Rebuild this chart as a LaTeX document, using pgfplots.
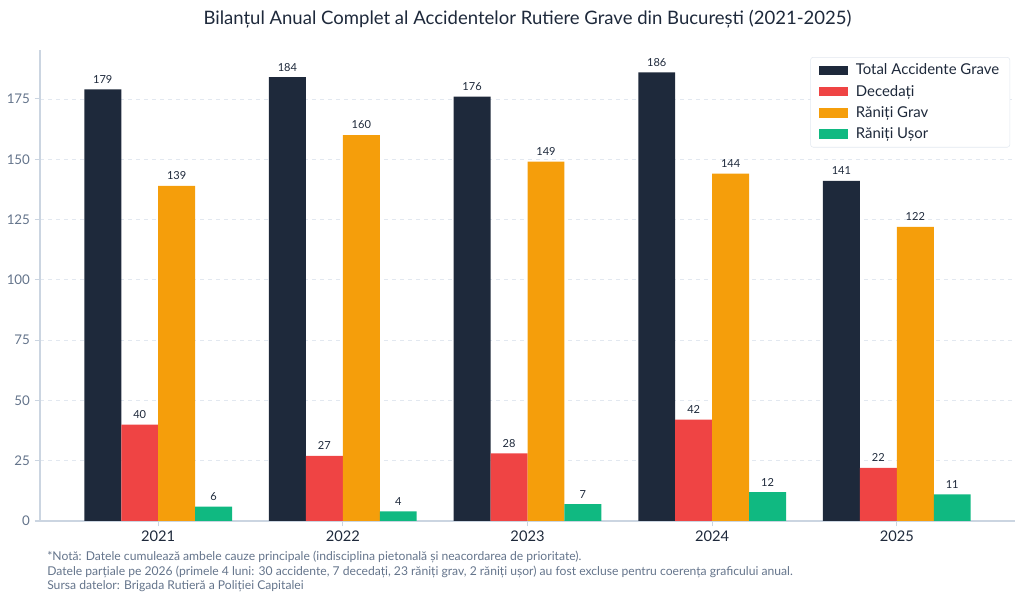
\documentclass[border=0pt]{standalone}
\usepackage{pgfplots}
\pgfplotsset{compat=1.18}
\usepackage{fontspec}
\setmainfont{Lato}
\definecolor{cTot}{HTML}{1E293B}
\definecolor{cDec}{HTML}{EF4444}
\definecolor{cGrav}{HTML}{F59E0B}
\definecolor{cUsor}{HTML}{10B981}
\definecolor{cTick}{HTML}{64748B}
\definecolor{cSpine}{HTML}{CBD5E1}
\definecolor{cGrid}{HTML}{E2E8F0}
\begin{document}
\begin{tikzpicture}
\begin{axis}[
  scale only axis,
  width=731.25pt, height=353.25pt,
  xmin=-0.64, xmax=4.64,
  ymin=0, ymax=195.3,
  xtick={0,1,2,3,4},
  xticklabels={2021,2022,2023,2024,2025},
  ytick={0,25,50,75,100,125,150,175},
  axis x line*=bottom, axis y line*=left,
  axis line style={cSpine, line width=0.8pt},
  x axis line style={-}, y axis line style={-},
  tick style={cSpine, line width=0.8pt},
  major tick length=4pt,
  tick align=outside,
  xticklabel style={font=\fontsize{11pt}{12pt}\selectfont, text=cTot},
  yticklabel style={font=\fontsize{10pt}{11pt}\selectfont, text=cTick},
  /pgf/number format/assume math mode=true,
  ymajorgrids,
  grid style={cGrid, dashed, line width=0.6pt},
  ybar, bar width=0.2,
  nodes near coords,
  every node near coord/.append style={font=\fontsize{8.3pt}{9pt}\selectfont, text=cTot, yshift=1pt},
  legend style={at={(0.995,0.985)}, anchor=north east, draw=cGrid, rounded corners=2pt,
    font=\fontsize{11.2pt}{13pt}\selectfont, text=cTot, row sep=2.2pt, inner xsep=6pt, inner ysep=3pt},
  legend cell align=left,
  legend image code/.code={\fill[#1, sharp corners] (0pt,-3.5pt) rectangle (22pt,3.5pt);},
  clip=false,
]
\addplot[fill=cTot, draw=none, bar shift=-0.3] coordinates {(0,179) (1,184) (2,176) (3,186) (4,141)};
\addplot[fill=cDec, draw=none, bar shift=-0.1] coordinates {(0,40) (1,27) (2,28) (3,42) (4,22)};
\addplot[fill=cGrav, draw=none, bar shift=0.1] coordinates {(0,139) (1,160) (2,149) (3,144) (4,122)};
\addplot[fill=cUsor, draw=none, bar shift=0.3] coordinates {(0,6) (1,4) (2,7) (3,12) (4,11)};
\legend{\hspace{4pt}Total Accidente Grave, \hspace{4pt}Decedați, \hspace{4pt}Răniți Grav, \hspace{4pt}Răniți Ușor}
\end{axis}
\node[anchor=base, font=\fontsize{13.9pt}{16pt}\selectfont, text=cTot] at ([yshift=19pt]current axis.north) {Bilanțul Anual Complet al Accidentelor Rutiere Grave din București (2021-2025)};
\node[anchor=north west, align=left, inner sep=0pt, font=\fontsize{9.1pt}{10.9pt}\selectfont, text=cTick] at ([shift={(5.25pt,-22.5pt)}]current axis.south west) {*Notă: Datele cumulează ambele cauze principale (indisciplina pietonală și neacordarea de prioritate).\\Datele parțiale pe 2026 (primele 4 luni: 30 accidente, 7 decedați, 23 răniți grav, 2 răniți ușor) au fost excluse pentru coerența graficului anual.\\Sursa datelor: Brigada Rutieră a Poliției Capitalei};
\pgfresetboundingbox
\useasboundingbox ([shift={(-30pt,-58.5pt)}]current axis.south west) rectangle ([shift={(6.75pt,37.5pt)}]current axis.north east);
\end{tikzpicture}
\end{document}
